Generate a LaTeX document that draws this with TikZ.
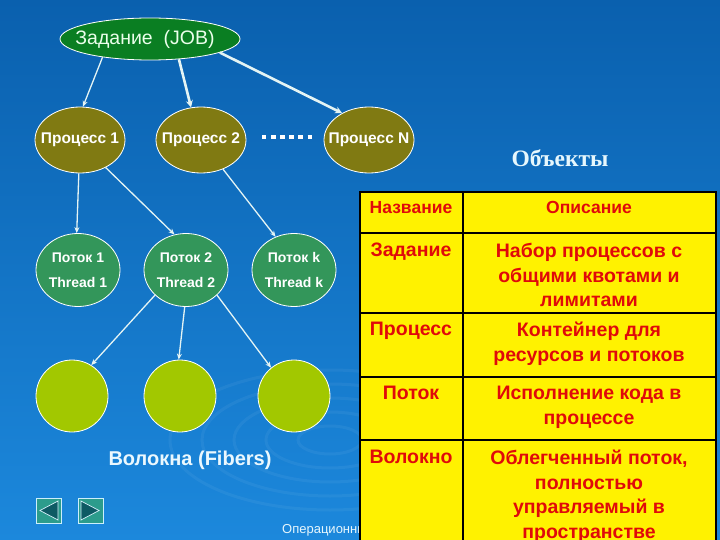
\documentclass[tikz,border=0pt]{standalone}
\usepackage{fontspec}
\setmainfont{Liberation Sans}
\newfontfamily\serifbf{Liberation Serif}
\usetikzlibrary{shapes.geometric,arrows.meta}
\definecolor{bgtop}{HTML}{0A60AE}
\definecolor{bgbot}{HTML}{1C88DC}
\definecolor{jobgreen}{HTML}{0A7E22}
\definecolor{procolive}{HTML}{807A12}
\definecolor{threadgreen}{HTML}{33965A}
\definecolor{fibergreen}{HTML}{A2C800}
\definecolor{arrowc}{HTML}{E4F4F4}
\definecolor{tabred}{HTML}{E00A0A}
\definecolor{navfill}{HTML}{2C9C8C}
\definecolor{navtri}{HTML}{0E5A64}
\tikzset{
  ell/.style={ellipse, draw=white, line width=0.8pt, inner sep=0pt, text=white},
  jobnode/.style={ell, fill=jobgreen, minimum width=180pt, minimum height=42pt, text=green!8!white, font=\fontsize{19.5}{22}\selectfont},
  procnode/.style={ell, fill=procolive, minimum width=90pt, minimum height=66pt, font=\bfseries\fontsize{15.5}{18}\selectfont},
  thrnode/.style={ell, fill=threadgreen, minimum width=84pt, minimum height=73pt, font=\bfseries\fontsize{14}{25}\selectfont, align=center},
  fibnode/.style={circle, draw=white, line width=0.8pt, fill=fibergreen, minimum size=72pt, inner sep=0pt},
  conn/.style={draw=arrowc, line width=1.3pt, -{Stealth[length=6pt,width=5pt]}},
  thick conn/.style={conn, line width=2.6pt, -{Stealth[length=7pt,width=7pt]}},
  celltext/.style={text=tabred, font=\bfseries\fontsize{19.5}{24.5}\selectfont, align=center, anchor=north, inner sep=0pt},
  headtext/.style={celltext, font=\bfseries\fontsize{17.5}{21}\selectfont},
  navbtn/.style={draw=cyan!20!white, fill=navfill, line width=0.8pt},
}
\begin{document}
\begin{tikzpicture}[x=1pt,y=-1pt]
\useasboundingbox (0,0) rectangle (720,540);
\shade[top color=bgtop, bottom color=bgbot] (0,0) rectangle (720,540);
% faint ripples
\foreach \r in {20,40,60,80,100}
  \draw[white, opacity=0.05, line width=3pt] (330,440) ellipse ({1.6*\r} and {\r*0.7});

\node[jobnode] (job) at (150,39) {\makebox[0pt]{\hspace*{-10pt}Задание\ \ (JOB)}};
\node[procnode] (p1) at (80,140) {\makebox[0pt]{Процесс 1}};
\node[procnode] (p2) at (201,140) {\makebox[0pt]{Процесс 2}};
\node[procnode] (pn) at (369,140) {\makebox[0pt]{Процесс N}};
\coordinate (d1) at (262,137);
\coordinate (d2) at (312,137);
\draw[white, line width=4pt, dash pattern=on 4.4pt off 4.72pt] (d1) -- (d2);

\node[thrnode] (t1) at (78,270) {Поток 1\\Thread 1};
\node[thrnode] (t2) at (186,270) {Поток 2\\Thread 2};
\node[thrnode] (tk) at (294,270) {Поток k\\Thread k};

\node[fibnode] (f1) at (72,396) {};
\node[fibnode] (f2) at (180,396) {};
\node[fibnode] (f3) at (294,396) {};

\draw[conn] (job.201) -- (p1.85);
\draw[thick conn] (job.325) -- (p2.107);
\draw[thick conn] (job.-11) -- (pn.135);
\draw[conn] (p1.268) -- (t1.92);
\draw[conn] (p1.-47) -- (t2.108);
\draw[conn] (p2.-53) -- (tk.119);
\draw[conn] (t2.219) -- (f1.58);
\draw[conn] (t2.268) -- (f2.92);
\draw[conn] (t2.-39) -- (f3.129);

\node[text=cyan!8!white, font=\bfseries\fontsize{20}{22}\selectfont] (fib) at (190,460) {Волокна (Fibers)};

% navigation buttons
\draw[navbtn] (36,498) rectangle (61,523);
\draw[navbtn] (78,498) rectangle (103,523);
\filldraw[fill=navtri, draw=cyan!15!white, line width=0.7pt] (58,501) -- (58,520) -- (40,510.5) -- cycle;
\filldraw[fill=navtri, draw=cyan!15!white, line width=0.7pt] (81,501) -- (81,520) -- (99,510.5) -- cycle;

\node[anchor=base west, text=cyan!10!white, font=\fontsize{13}{15}\selectfont, inner sep=0pt] (foot) at (282,533) {Операционные системы};

\node[text=cyan!10!white, font=\serifbf\bfseries\fontsize{23.5}{26}\selectfont] (title) at (560,158) {Объекты};

% table
\fill[yellow] (360,192) rectangle (716,541);
\draw[black, line width=1.6pt] (360,541) -- (360,192) -- (716,192) -- (716,541);
\draw[black, line width=1.6pt] (463,192) -- (463,541);
\foreach \yy in {233,313,377,440} \draw[black, line width=1.6pt] (360,\yy) -- (716,\yy);

\node[headtext] (h1) at (411,201) {Название};
\node[headtext] (h2) at (589,201) {Описание};
\node[celltext] (c11) at (411,243) {Задание};
\node[celltext] (c12) at (589,243) {Набор процессов с\\общими квотами и\\лимитами};
\node[celltext] (c21) at (411,322) {Процесс};
\node[celltext] (c22) at (589,322) {Контейнер для\\ресурсов и потоков};
\node[celltext] (c31) at (411,386) {Поток};
\node[celltext] (c32) at (589,386) {Исполнение кода в\\процессе};
\node[celltext] (c41) at (411,450) {Волокно};
\node[celltext] (c42) at (589,450) {Облегченный поток,\\полностью\\управляемый в\\пространстве};
\end{tikzpicture}
\end{document}
